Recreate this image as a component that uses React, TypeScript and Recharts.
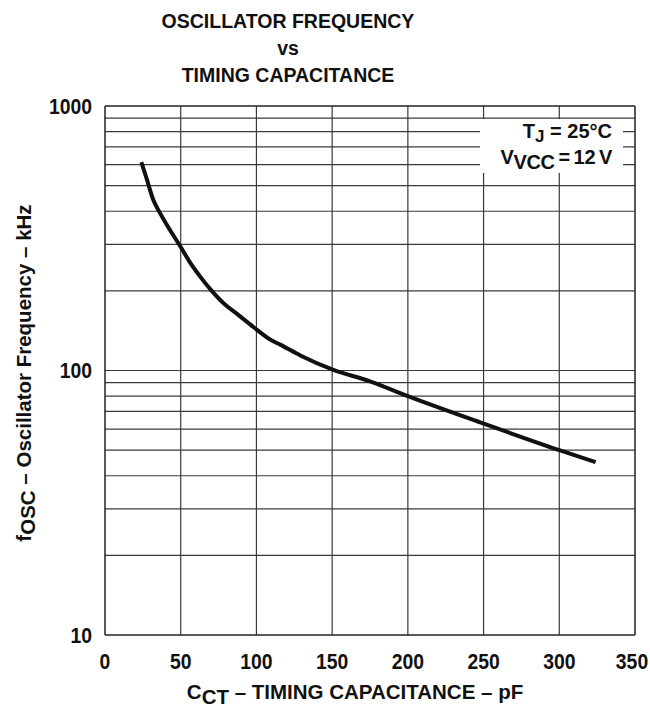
import React from "react";
import { LineChart, Line, XAxis, YAxis, ReferenceLine } from "recharts";

// values
const capacitance = [24, 27.5, 32, 36, 43, 50, 56, 63, 70.5, 80, 87, 98, 109, 116, 129, 150, 175, 200, 250, 300, 324];
const frequency = [614, 531, 440, 397, 339, 293, 257, 226, 200, 176, 164, 146, 131, 125, 114, 101, 91, 80, 63, 50, 45];

const xTicks = [0, 50, 100, 150, 200, 250, 300, 350];
const yTicks = [10, 100, 1000];
const yMinor = [20, 30, 40, 50, 60, 70, 80, 90, 100, 200, 300, 400, 500, 600, 700, 800, 900];

const data = capacitance.map((c, i) => ({ c, f: frequency[i] }));

const FONT = "'Liberation Sans', Arial, sans-serif";
const GRID = "#3a3a3a";

// slightly condensed bold tick text, like the datasheet font
const XTick = ({ x, y, payload }: any) => {
  const last = payload.value === 350;
  return (
    <text
      transform={`translate(${last ? x - 3 : x},${y}) scale(0.88,1)`}
      textAnchor="middle"
      dy="0.71em"
      fontFamily={FONT}
      fontWeight={700}
      fontSize={22}
      fill="#111"
    >
      {payload.value}
    </text>
  );
};

const YTick = ({ x, y, payload }: any) => (
  <text
    transform={`translate(${x},${y}) scale(0.88,1)`}
    textAnchor="end"
    dy="0.36em"
    fontFamily={FONT}
    fontWeight={700}
    fontSize={22}
    fill="#111"
  >
    {payload.value}
  </text>
);

const App: React.FC = () => {
  return (
    <div style={{ position: "absolute", left: 0, top: 0, width: 650, height: 715, background: "#fff", fontFamily: FONT, color: "#111" }}>
      <LineChart width={650} height={715} data={data} margin={{ top: 106, right: 15, bottom: 40, left: 45 }}>
        <XAxis
          dataKey="c"
          type="number"
          domain={[0, 350]}
          ticks={xTicks}
          tickSize={0}
          tickMargin={18}
          tickLine={false}
          axisLine={{ stroke: "#222", strokeWidth: 1.5 }}
          tick={<XTick />}
          height={40}
          interval={0}
        />
        <YAxis
          dataKey="f"
          scale="log"
          domain={[10, 1000]}
          ticks={yTicks}
          tickSize={0}
          tickMargin={13}
          tickLine={false}
          axisLine={{ stroke: "#222", strokeWidth: 1.5 }}
          tick={<YTick />}
          width={60}
          allowDataOverflow
          interval={0}
        />
        {xTicks.slice(1, -1).map((x) => (
          <ReferenceLine key={`vx-${x}`} x={x} stroke={GRID} strokeWidth={1.2} />
        ))}
        {yMinor.map((y) => (
          <ReferenceLine key={`hy-${y}`} y={y} stroke={GRID} strokeWidth={1.2} />
        ))}
        <ReferenceLine x={350} stroke="#222" strokeWidth={1.5} />
        <ReferenceLine y={1000} stroke="#222" strokeWidth={1.5} />
        <Line
          type="monotone"
          dataKey="f"
          stroke="#111"
          strokeWidth={4}
          dot={false}
          isAnimationActive={false}
        />
      </LineChart>

      {/* title */}
      <div style={{ position: "absolute", left: 88, width: 400, top: 8, textAlign: "center", fontWeight: 700, fontSize: 19.5, lineHeight: "27px" }}>
        <div>OSCILLATOR FREQUENCY</div>
        <div>vs</div>
        <div>TIMING CAPACITANCE</div>
      </div>

      {/* conditions box */}
      <div style={{ position: "absolute", left: 480, top: 119, width: 143, height: 54, background: "#fff", textAlign: "right", fontWeight: 700, fontSize: 20, lineHeight: "21px", boxSizing: "border-box", paddingRight: 11, paddingTop: 2 }}>
        <div>T<sub style={{ fontSize: 17, verticalAlign: -4 }}>J</sub> = 25°C</div>
        <div style={{ letterSpacing: -0.3 }}>V<sub style={{ fontSize: 20, verticalAlign: -5 }}>VCC</sub>{"\u2009"}={"\u2009"}12{"\u2009"}V</div>
      </div>

      {/* y label */}
      <div style={{ position: "absolute", left: 26, top: 373, transform: "translate(-50%, -50%) rotate(-90deg)", whiteSpace: "nowrap", fontWeight: 700, fontSize: 20.5 }}>
        f<sub style={{ fontSize: 20.5, verticalAlign: -4 }}>OSC</sub> – Oscillator Frequency – kHz
      </div>

      {/* x label */}
      <div style={{ position: "absolute", left: 355, top: 694, transform: "translate(-50%, -50%)", whiteSpace: "nowrap", fontWeight: 700, fontSize: 20.5 }}>
        C<sub style={{ fontSize: 20.5, verticalAlign: -5 }}>CT</sub> – TIMING CAPACITANCE – pF
      </div>
    </div>
  );
};

export default App;
